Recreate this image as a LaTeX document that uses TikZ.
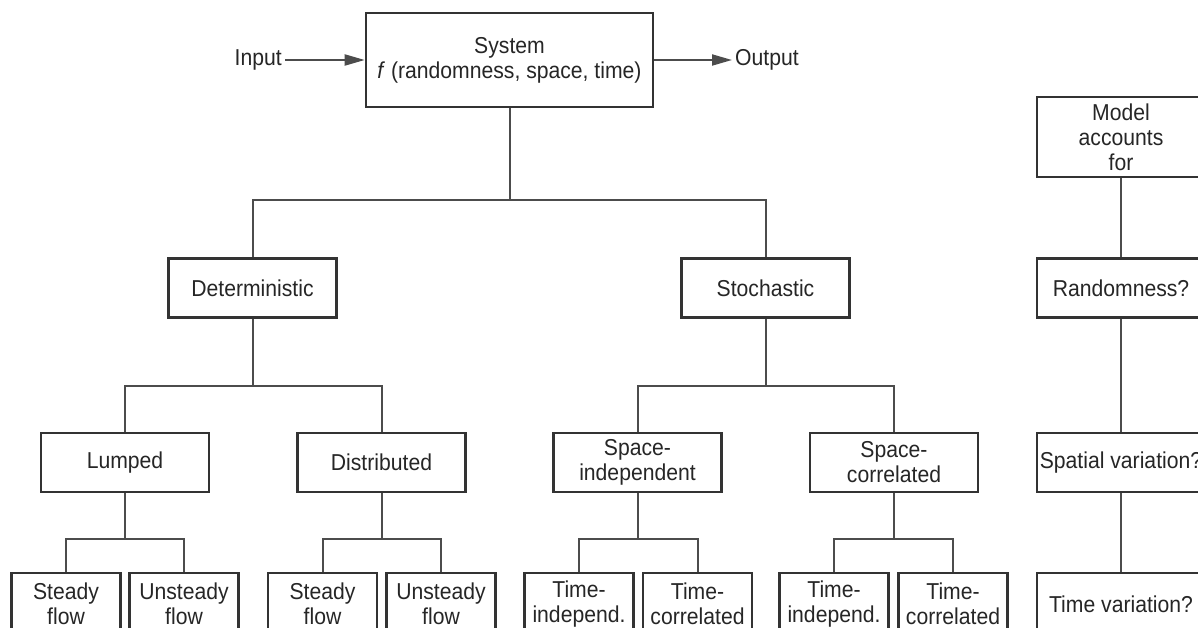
\documentclass[tikz,border=0pt]{standalone}
\usepackage{fontspec}
\setmainfont{Liberation Sans}[FakeStretch=0.92]
\usetikzlibrary{arrows.meta}

\begin{document}
\begin{tikzpicture}[x=1pt, y=-1pt,
    font=\fontsize{23}{25}\selectfont, text=black!85,
    box/.style={draw=black!80, line width=2.6pt, fill=white, align=center,
        inner sep=0pt, minimum width=168pt, minimum height=59pt},
    leaf/.style={box, minimum width=109pt, minimum height=62pt},
    link/.style={draw=black!70, line width=2pt},
    flow/.style={link, -{Triangle[length=20pt, width=11pt]}}]
    \useasboundingbox (0,0) rectangle (1198,628);
    \clip (0,0) rectangle (1198,628);
    \fill[white] (0,0) rectangle (1198,628);

    % system with input and output
    \node[box, minimum width=287pt, minimum height=94pt] (sys) at (509.5,60) {System\\\textit{f} (randomness, space, time)};
    \node[anchor=east, inner sep=3pt] (input) at (285,60) {Input};
    \node[anchor=west, inner sep=3pt] (output) at (732,60) {Output};
    \draw[flow] (input) -- (sys);
    \draw[flow] (sys) -- (output);

    % second row
    \node[box] (det) at (252.5,288) {Deterministic};
    \node[box] (stoch) at (765.5,288) {Stochastic};

    % third row
    \node[box] (lump) at (125,462.5) {Lumped};
    \node[box] (dist) at (381.5,462.5) {Distributed};
    \node[box] (spind) at (637.5,462.5) {Space-\\independent};
    \node[box] (spcor) at (894,462.5) {Space-\\correlated};

    % bottom row
    \node[leaf] (lsteady) at (66,604) {Steady\\flow};
    \node[leaf] (lunsteady) at (184,604) {Unsteady\\flow};
    \node[leaf] (dsteady) at (322.5,604) {Steady\\flow};
    \node[leaf] (dunsteady) at (441,604) {Unsteady\\flow};
    \node[leaf] (itind) at (579,604) {Time-\\independ.};
    \node[leaf] (itcor) at (697.5,604) {Time-\\correlated};
    \node[leaf] (ctind) at (834,604) {Time-\\independ.};
    \node[leaf] (ctcor) at (953,604) {Time-\\correlated};

    % right column
    \node[box, minimum height=80pt] (model) at (1121,137) {Model\\accounts\\for};
    \node[box] (rand) at (1121,288) {Randomness?};
    \node[box] (spatial) at (1121,462.5) {Spatial variation?};
    \node[leaf, minimum width=168pt] (timevar) at (1121,604) {Time variation?};

    % tree connectors
    \coordinate (bus1) at (0,200);
    \coordinate (bus2) at (0,386);
    \coordinate (bus3) at (0,539);
    \draw[link] (sys) -- (sys |- bus1);
    \draw[link] (det) -- (det |- bus1) -- (stoch |- bus1) -- (stoch);

    \draw[link] (det) -- (det |- bus2);
    \draw[link] (lump) -- (lump |- bus2) -- (dist |- bus2) -- (dist);
    \draw[link] (stoch) -- (stoch |- bus2);
    \draw[link] (spind) -- (spind |- bus2) -- (spcor |- bus2) -- (spcor);

    \draw[link] (lump) -- (lump |- bus3);
    \draw[link] (lsteady) -- (lsteady |- bus3) -- (lunsteady |- bus3) -- (lunsteady);
    \draw[link] (dist) -- (dist |- bus3);
    \draw[link] (dsteady) -- (dsteady |- bus3) -- (dunsteady |- bus3) -- (dunsteady);
    \draw[link] (spind) -- (spind |- bus3);
    \draw[link] (itind) -- (itind |- bus3) -- (itcor |- bus3) -- (itcor);
    \draw[link] (spcor) -- (spcor |- bus3);
    \draw[link] (ctind) -- (ctind |- bus3) -- (ctcor |- bus3) -- (ctcor);

    % right column links
    \draw[link] (model) -- (rand);
    \draw[link] (rand) -- (spatial);
    \draw[link] (spatial) -- (timevar);
\end{tikzpicture}
\end{document}
